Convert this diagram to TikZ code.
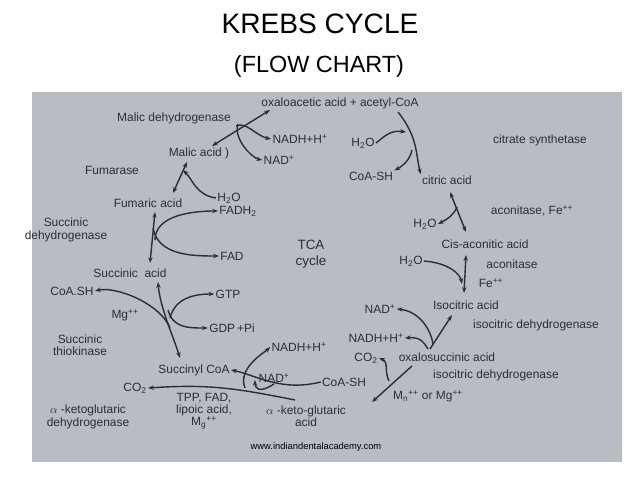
\documentclass[tikz,border=0pt]{standalone}
\usepackage{fontspec}
\setmainfont{Liberation Sans}
\usetikzlibrary{arrows.meta}
\definecolor{photo}{RGB}{186,188,196}
\definecolor{ink}{RGB}{45,45,52}
\newcommand{\sps}[1]{\textsuperscript{#1}}
\newcommand{\sbs}[1]{\textsubscript{#1}}
\begin{document}
\begin{tikzpicture}[x=0.03cm,y=-0.03cm,
    lbl/.style={text=ink,font=\fontsize{10.2}{10.5}\selectfont,inner sep=1pt,align=center},
    rxn/.style={draw=ink,line width=1.2pt,-{Stealth[length=5pt]}},
    both/.style={draw=ink,line width=1.2pt,{Stealth[length=5pt]}-{Stealth[length=5pt]}}]
    \useasboundingbox (0,0) rectangle (638,479);
    %% slide and photo
    \fill[white] (0,0) rectangle (638,479);
    \fill[photo] (32,92) rectangle (622,462);
    \node (t1) at (320,24) [font=\fontsize{24}{26}\selectfont] {KREBS CYCLE};
    \node (t2) at (319,66) [font=\fontsize{20}{22}\selectfont] {(FLOW CHART)};
    %% right half
    \node (oaa) [lbl] at (340,103) {oxaloacetic acid + acetyl-CoA};
    \node (cs) [lbl] at (540,140) {citrate synthetase};
    \node (w1) [lbl] at (363,143) {H\sbs{2}O};
    \node (coa1) [lbl] at (371,176) {CoA-SH};
    \node (cit) [lbl] at (447,180) {citric acid};
    \node (aco1) [lbl] at (532,211) {aconitase, Fe\sps{++}};
    \node (w2) [lbl] at (425,224) {H\sbs{2}O};
    \node (cis) [lbl] at (485,244) {Cis-aconitic acid};
    \node (w3) [lbl] at (411,261) {H\sbs{2}O};
    \node (aco2) [lbl] at (512,264) {aconitase};
    \node (fe) [lbl] at (491,283) {Fe\sps{++}};
    \node (iso) [lbl] at (466,305) {Isocitric acid};
    \node (nad1) [lbl] at (380,309) {NAD\sps{+}};
    \node (idh1) [lbl] at (536,325) {isocitric dehydrogenase};
    \node (nadh1) [lbl] at (376,338) {NADH+H\sps{+}};
    \node (co2a) [lbl] at (366,358) {CO\sbs{2}};
    \node (oxs) [lbl] at (447,357) {oxalosuccinic acid};
    \node (idh2) [lbl] at (496,375) {isocitric dehydrogenase};
    \node (mn) [lbl] at (428,396) {M\sbs{n}\sps{++} or Mg\sps{++}};
    \node (coa2) [lbl] at (344,382) {CoA-SH};
    \node (akg) [lbl] at (306,416) {$\alpha$ -keto-glutaric\\acid};
    \node (tca) [lbl,font=\fontsize{11.5}{14}\selectfont] at (311,254) {TCA\\cycle};
    %% left half
    \node (mdh) [lbl] at (174,118) {Malic dehydrogenase};
    \node (nadh2) [lbl] at (300,139) {NADH+H\sps{+}};
    \node (mal) [lbl] at (199,153) {Malic acid )};
    \node (nad2) [lbl] at (279,160) {NAD\sps{+}};
    \node (fum) [lbl] at (112,170) {Fumarase};
    \node (w4) [lbl] at (229,198) {H\sbs{2}O};
    \node (fuma) [lbl] at (148,203) {Fumaric acid};
    \node (fadh) [lbl] at (238,211) {FADH\sbs{2}};
    \node (sdh) [lbl] at (66,230) {Succinic\\dehydrogenase};
    \node (fad) [lbl] at (232,256) {FAD};
    \node (suc) [lbl] at (130,273) {Succinic \ acid};
    \node (coa3) [lbl] at (72,291) {CoA.SH};
    \node (gtp) [lbl] at (228,294) {GTP};
    \node (mg) [lbl] at (125,315) {Mg\sps{++}};
    \node (gdp) [lbl] at (232,328) {GDP\,+Pi};
    \node (stk) [lbl] at (80,345) {Succinic\\thiokinase};
    \node (nadh3) [lbl] at (299,347) {NADH+H\sps{+}};
    \node (scoa) [lbl] at (194,370) {Succinyl CoA};
    \node (nad3) [lbl] at (274,378) {NAD\sps{+}};
    \node (co2b) [lbl] at (135,388) {CO\sbs{2}};
    \node (tpp) [lbl] at (204,411) {TPP, FAD,\\lipoic acid,\\M\sbs{g}\sps{++}};
    \node (akgdh) [lbl] at (88,417) {$\alpha$ -ketoglutaric\\dehydrogenase};
    \node (web) at (316,447) [font=\fontsize{8}{9}\selectfont] {www.indiandentalacademy.com};
    %% citrate synthetase
    \draw [rxn] (398,112) .. controls +(20,25) and +(-5,-20) .. (cit.north west);
    \draw [rxn] (w1.east) .. controls +(10,-8) and +(-15,-2) .. (406,132);
    \draw [rxn] (412,150) .. controls +(-2,10) and +(8,-4) .. (coa1.north east);
    %% aconitase
    \draw [both] (450,192) -- (466,232);
    \draw [rxn] (457,207) .. controls +(-3,8) and +(8,-4) .. (w2.east);
    \draw [both] (466,255) -- (464,293);
    \draw [rxn] (w3.east) .. controls +(25,2) and +(-2,-10) .. (462,284);
    %% isocitric dehydrogenase
    \draw [rxn] (430,349) -- (452,315);
    \draw [rxn] (433,344) .. controls +(-3,-18) and +(20,2) .. (nad1.east);
    \draw [rxn] (428,349) .. controls +(-5,-8) and +(15,-1) .. (nadh1.east);
    \draw [rxn] (412,366) -- (372,402);
    \draw [rxn] (389,381) .. controls +(-5,-10) and +(10,4) .. (co2a.east);
    %% alpha-ketoglutaric dehydrogenase
    \draw [rxn] (295,400) .. controls +(-60,-12) and +(60,-4) .. (co2b.east);
    \draw [rxn] (coa2.west) .. controls +(-40,10) and +(25,5) .. (scoa.east);
    \draw [rxn] (nad3.south) .. controls +(-15,10) and +(0,8) .. (255,380);
    \draw [rxn] (245,388) .. controls +(-8,-20) and +(-5,5) .. (nadh3.west);
    %% succinic thiokinase
    \draw [both] (180,358) .. controls +(-8,-25) and +(2,25) .. (158,282);
    \draw [rxn] (170,328) .. controls +(-10,-25) and +(20,-5) .. (coa3.east);
    \draw [rxn] (170,318) .. controls +(5,-20) and +(-20,0) .. (gtp.west);
    \draw [rxn] (168,310) .. controls +(5,18) and +(-20,0) .. (gdp.west);
    %% succinic dehydrogenase
    \draw [both] (150,263) -- (155,212);
    \draw [rxn] (155,240) .. controls +(0,-25) and +(-25,0) .. (fadh.west);
    \draw [rxn] (153,228) .. controls +(5,28) and +(-25,0) .. (fad.west);
    %% fumarase and malic dehydrogenase
    \draw [both] (173,193) -- (187,162);
    \draw [rxn] (w4.west) .. controls +(-20,-3) and +(10,10) .. (183,170);
    \draw [both] (212,146) -- (270,110);
    \draw [rxn] (236,126) .. controls +(10,-5) and +(-15,-3) .. (nadh2.west);
    \draw [rxn] (238,124) .. controls +(-5,15) and +(-10,-2) .. (nad2.west);
  \end{tikzpicture}
\end{document}
